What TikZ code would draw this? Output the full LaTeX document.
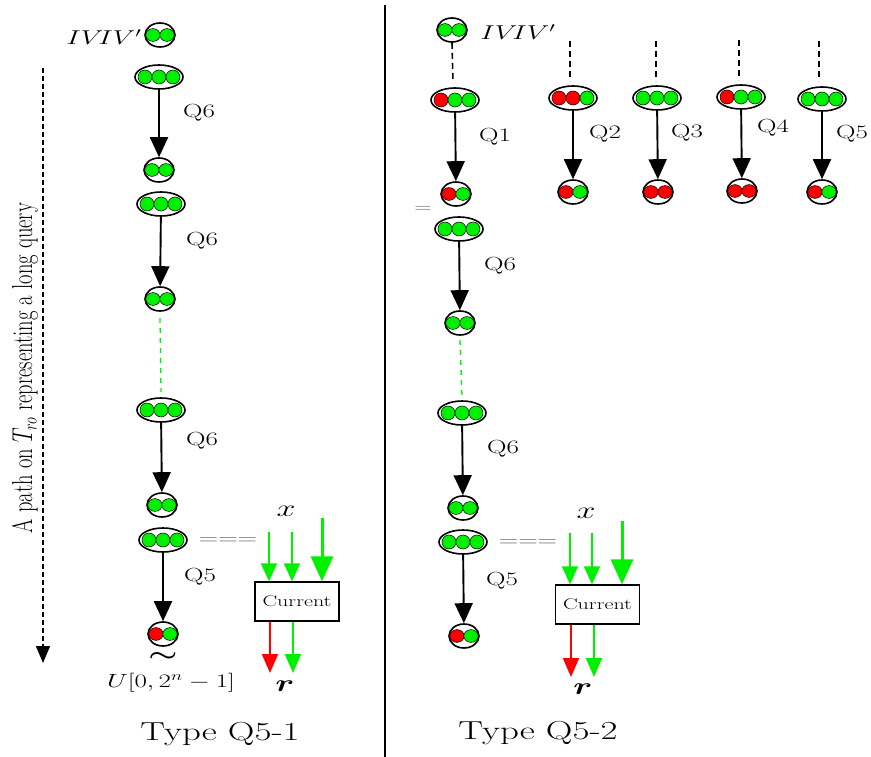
\RequirePackage{fix-cm}
\documentclass[tikz,border=0pt]{standalone}
\usepackage{amsmath}
\usepackage{graphicx}
\usetikzlibrary{shapes.geometric,arrows.meta}
\definecolor{dg}{RGB}{0,240,0}
\definecolor{dr}{RGB}{255,0,0}
\definecolor{eqgray}{RGB}{95,95,95}
\newcommand{\hs}[1]{\scalebox{1.42}[1]{#1}}
\newcommand{\fsz}[1]{\fontsize{#1}{#1}\selectfont}
\tikzset{
  twoe/.style={draw, line width=1.6pt, ellipse, minimum width=30pt, minimum height=24pt, inner sep=0pt, fill=white},
  threee/.style={draw, line width=1.6pt, ellipse, minimum width=48pt, minimum height=24pt, inner sep=0pt, fill=white},
  dotst/.style={draw=black, line width=0.5pt},
  qarrow/.style={line width=1.9pt, -{Triangle[length=20pt,width=18pt]}},
  garrow/.style={draw=dg, line width=1.6pt, -{Triangle[length=18pt,width=16pt,fill=dg]}},
  gthick/.style={draw=dg, line width=3pt, -{Triangle[length=25pt,width=22pt,fill=dg]}},
  rarrow/.style={draw=dr, line width=1.9pt, -{Triangle[length=19pt,width=16pt,fill=dr]}},
  gbarrow/.style={draw=dg, line width=1.9pt, -{Triangle[length=19pt,width=16pt,fill=dg]}},
  qlabel/.style={font=\fsz{19}, inner sep=0pt},
  bdash/.style={line width=1.6pt, dash pattern=on 6pt off 4pt},
  gdash/.style={draw=dg, line width=1.3pt, dash pattern=on 5pt off 5pt},
  curbox/.style={draw, line width=1.3pt, minimum width=84pt, minimum height=39pt, inner sep=0pt},
  eqsign/.style={text=eqgray, inner sep=0pt},
  plain/.style={inner sep=0pt}
}
\newcommand{\twodot}[5]{%
  \node[twoe] (#1) at (#2,#3) {};
  \filldraw[dotst, fill=#4] ([xshift=-7pt]#1.center) ellipse [x radius=7.2pt, y radius=6.4pt];
  \filldraw[dotst, fill=#5] ([xshift=7pt]#1.center) ellipse [x radius=7.2pt, y radius=6.4pt];
}
\newcommand{\threedot}[6]{%
  \node[threee] (#1) at (#2,#3) {};
  \filldraw[dotst, fill=#4] ([xshift=-14pt]#1.center) circle [radius=7pt];
  \filldraw[dotst, fill=#5] (#1.center) circle [radius=7pt];
  \filldraw[dotst, fill=#6] ([xshift=14pt]#1.center) circle [radius=7pt];
}
\begin{document}
\begin{tikzpicture}[x=1pt,y=-1pt]
\useasboundingbox (0,0) rectangle (871,757);

% ---------------- left panel ----------------
\twodot{L0}{160}{35}{dg}{dg}
\node[plain] (ivl) at (104,37) {\hs{\fsz{20}$IV\!IV'$}};

\threedot{L1}{159}{77}{dg}{dg}{dg}
\twodot{L2}{159}{170}{dg}{dg}
\draw[qarrow] (L1) -- (L2);
\node[qlabel] (ql1) at (199,113) {\hs{Q6}};

\threedot{L3}{161}{204}{dg}{dg}{dg}
\twodot{L4}{160}{299}{dg}{dg}
\draw[qarrow] (L3) -- (L4);
\node[qlabel] (ql2) at (202,241) {\hs{Q6}};

\threedot{L5}{161}{410}{dg}{dg}{dg}
\draw[gdash] ([yshift=-6pt]L4.south) -- ([yshift=5pt]L5.north);
\twodot{L6}{162}{505}{dg}{dg}
\draw[qarrow] (L5) -- (L6);
\node[qlabel] (ql3) at (202,441) {\hs{Q6}};

\threedot{L7}{163}{540}{dg}{dg}{dg}
\twodot{L8}{163}{634}{dr}{dg}
\draw[qarrow] (L7) -- (L8);
\node[qlabel] (ql4) at (200,577) {\hs{Q5}};

\node[plain] (sim) at (163,657) {\hs{\fsz{23}$\boldsymbol{\sim}$}};
\node[plain] (unif) at (171,683) {\hs{\fsz{19}$U[0,2^n-1]$}};

\node[eqsign] (eql) at (228,541) {\hs{\fsz{19}$===$}};
\node[plain] (xl) at (286,511) {\hs{\fsz{24}$x$}};

\node[curbox] (C1) at (297,601.5) {\hs{\fsz{15.5}Current}};
\coordinate (a1) at (269,532);
\coordinate (a2) at (292,532);
\coordinate (a3) at (322,518);
\draw[garrow] (a1) -- (a1 |- C1.north);
\draw[garrow] (a2) -- (a2 |- C1.north);
\draw[gthick] (a3) -- (a3 |- C1.north);
\coordinate (b1) at (270,673);
\coordinate (b2) at (293,673);
\draw[rarrow] (b1 |- C1.south) -- (b1);
\draw[gbarrow] (b2 |- C1.south) -- (b2);
\node[plain] (rl) at (285,686) {\hs{\fsz{24}$\boldsymbol{r}$}};

\node[plain] (t1) at (220,734) {\hs{\fsz{26}Type Q5-1}};

% path arrow
\coordinate (p0) at (43,68);
\coordinate (p1) at (43,663);
\draw[line width=1.6pt, dash pattern=on 5pt off 3pt, -{Triangle[length=17pt,width=14pt]}] (p0) -- (p1);
\node[plain, rotate=90] (ptext) at (25,368) {\scalebox{1}[1.4]{\fsz{20.5}A path on $T_{ro}$ representing a long query}};

% divider
\coordinate (d0) at (385,5);
\coordinate (d1) at (385,757);
\draw[line width=1.5pt] (d0) -- (d1);

% ---------------- right panel ----------------
\twodot{R0}{452}{30}{dg}{dg}
\node[plain] (ivr) at (518,32) {\hs{\fsz{20}$IV\!IV'$}};

\threedot{R1}{455}{100}{dr}{dg}{dg}
\coordinate (e0) at (453,82);
\draw[bdash] (R0.south) -- (e0);
\twodot{R2}{456}{194}{dr}{dg}
\draw[qarrow] (R1) -- (R2);
\node[qlabel] (qr1) at (495,137) {\hs{Q1}};

\threedot{R3}{573}{98}{dr}{dr}{dg}
\twodot{R4}{573}{192}{dr}{dg}
\draw[qarrow] (R3) -- (R4);
\node[qlabel] (qr2) at (605,134) {\hs{Q2}};
\coordinate (s2a) at (570,41); \coordinate (s2b) at (570,81);
\draw[bdash] (s2a) -- (s2b);

\threedot{R5}{657}{98}{dg}{dg}{dg}
\twodot{R6}{658}{192}{dr}{dr}
\draw[qarrow] (R5) -- (R6);
\node[qlabel] (qr3) at (687,133) {\hs{Q3}};
\coordinate (s3a) at (656,41); \coordinate (s3b) at (656,81);
\draw[bdash] (s3a) -- (s3b);

\threedot{R7}{741}{97}{dr}{dg}{dg}
\twodot{R8}{742}{191}{dr}{dr}
\draw[qarrow] (R7) -- (R8);
\node[qlabel] (qr4) at (773,128) {\hs{Q4}};
\coordinate (s4a) at (739,40); \coordinate (s4b) at (739,80);
\draw[bdash] (s4a) -- (s4b);

\threedot{R9}{822}{99}{dg}{dg}{dg}
\twodot{R10}{822}{192}{dr}{dg}
\draw[qarrow] (R9) -- (R10);
\node[qlabel] (qr5) at (852,134) {\hs{Q5}};
\coordinate (s5a) at (819,41); \coordinate (s5b) at (819,81);
\draw[bdash] (s5a) -- (s5b);

\node[eqsign] (eqs) at (423,209) {\hs{\fsz{17}$=$}};

\threedot{R11}{459}{229}{dg}{dg}{dg}
\twodot{R12}{460}{323}{dg}{dg}
\draw[qarrow] (R11) -- (R12);
\node[qlabel] (qr6) at (500,266) {\hs{Q6}};

\threedot{R13}{462}{413}{dg}{dg}{dg}
\draw[gdash] ([yshift=-4pt]R12.south) -- ([yshift=4pt]R13.north);
\twodot{R14}{463}{508}{dg}{dg}
\draw[qarrow] (R13) -- (R14);
\node[qlabel] (qr7) at (503,449) {\hs{Q6}};

\threedot{R15}{463}{542}{dg}{dg}{dg}
\twodot{R16}{464}{636}{dr}{dg}
\draw[qarrow] (R15) -- (R16);
\node[qlabel] (qr8) at (502,581) {\hs{Q5}};

\node[eqsign] (eqr) at (528,543) {\hs{\fsz{19}$===$}};
\node[plain] (xr) at (586,513) {\hs{\fsz{24}$x$}};

\node[curbox] (C2) at (597.5,604.5) {\hs{\fsz{15.5}Current}};
\coordinate (c1) at (570,533);
\coordinate (c2) at (592,533);
\coordinate (c3) at (622,521);
\draw[garrow] (c1) -- (c1 |- C2.north);
\draw[garrow] (c2) -- (c2 |- C2.north);
\draw[gthick] (c3) -- (c3 |- C2.north);
\coordinate (f1) at (571,677);
\coordinate (f2) at (594,677);
\draw[rarrow] (f1 |- C2.south) -- (f1);
\draw[gbarrow] (f2 |- C2.south) -- (f2);
\node[plain] (rr) at (583,689) {\hs{\fsz{24}$\boldsymbol{r}$}};

\node[plain] (t2) at (538,733) {\hs{\fsz{26}Type Q5-2}};
\end{tikzpicture}
\end{document}
